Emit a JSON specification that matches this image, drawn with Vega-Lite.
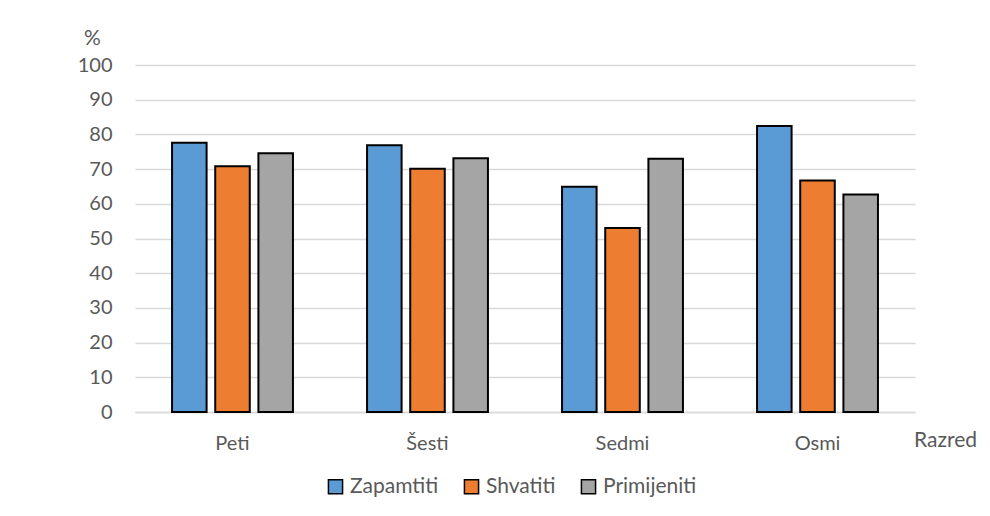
{
  "$schema": "https://vega.github.io/schema/vega-lite/v6.json",
  "width": 780,
  "height": 347,
  "autosize": {"type": "none"},
  "padding": {"left": 135, "top": 65, "right": 75, "bottom": 104},
  "background": "white",
  "config": {
    "view": {"stroke": null},
    "font": "Lato",
    "axis": {"labelFont": "Lato", "titleFont": "Lato", "labelColor": "#595959", "titleColor": "#595959", "labelFontSize": 20, "titleFontSize": 21, "titleFontWeight": "normal"},
    "legend": {"labelFont": "Lato", "labelFontSize": 21, "labelColor": "#595959"}
  },
  "data": {
    "values": [
      {"razred": "Peti", "kategorija": "Zapamtiti", "vrijednost": 77.6},
      {"razred": "Peti", "kategorija": "Shvatiti", "vrijednost": 70.8},
      {"razred": "Peti", "kategorija": "Primijeniti", "vrijednost": 74.6},
      {"razred": "Šesti", "kategorija": "Zapamtiti", "vrijednost": 76.9},
      {"razred": "Šesti", "kategorija": "Shvatiti", "vrijednost": 70.1},
      {"razred": "Šesti", "kategorija": "Primijeniti", "vrijednost": 73.1},
      {"razred": "Sedmi", "kategorija": "Zapamtiti", "vrijednost": 64.9},
      {"razred": "Sedmi", "kategorija": "Shvatiti", "vrijednost": 53.0},
      {"razred": "Sedmi", "kategorija": "Primijeniti", "vrijednost": 73.0},
      {"razred": "Osmi", "kategorija": "Zapamtiti", "vrijednost": 82.4},
      {"razred": "Osmi", "kategorija": "Shvatiti", "vrijednost": 66.7},
      {"razred": "Osmi", "kategorija": "Primijeniti", "vrijednost": 62.7}
    ]
  },
  "mark": {"type": "bar", "stroke": "black", "strokeWidth": 2},
  "encoding": {
    "x": {
      "field": "razred",
      "type": "nominal",
      "sort": ["Peti", "Šesti", "Sedmi", "Osmi"],
      "scale": {"paddingInner": 0.38, "paddingOuter": 0.19},
      "axis": {
        "title": "Razred",
        "titleAngle": 0,
        "titleX": 810,
        "titleY": 28,
        "titleAlign": "center",
        "titleBaseline": "middle",
        "labelAngle": 0,
        "labelPadding": 21,
        "ticks": false,
        "domainColor": "#d9d9d9",
        "domainWidth": 1.5,
        "grid": false
      }
    },
    "xOffset": {
      "field": "kategorija",
      "type": "nominal",
      "sort": ["Zapamtiti", "Shvatiti", "Primijeniti"],
      "scale": {"paddingInner": 0.2, "paddingOuter": 0}
    },
    "y": {
      "field": "vrijednost",
      "type": "quantitative",
      "scale": {"domain": [0, 100]},
      "axis": {
        "title": "%",
        "titleAngle": 0,
        "titleX": -43,
        "titleY": -27,
        "titleAlign": "center",
        "titleBaseline": "middle",
        "values": [0, 10, 20, 30, 40, 50, 60, 70, 80, 90, 100],
        "ticks": false,
        "domain": false,
        "labelPadding": 23,
        "gridColor": "#d9d9d9",
        "gridWidth": 1.5
      }
    },
    "color": {
      "field": "kategorija",
      "type": "nominal",
      "sort": ["Zapamtiti", "Shvatiti", "Primijeniti"],
      "scale": {"domain": ["Zapamtiti", "Shvatiti", "Primijeniti"], "range": ["#5B9BD5", "#ED7D31", "#A5A5A5"]},
      "legend": {
        "title": null,
        "orient": "none",
        "direction": "horizontal",
        "legendX": 190,
        "legendY": 411,
        "symbolType": "square",
        "symbolSize": 200,
        "symbolStrokeColor": "black",
        "symbolStrokeWidth": 1.5,
        "labelOffset": 4,
        "columnPadding": 22
      }
    }
  }
}
